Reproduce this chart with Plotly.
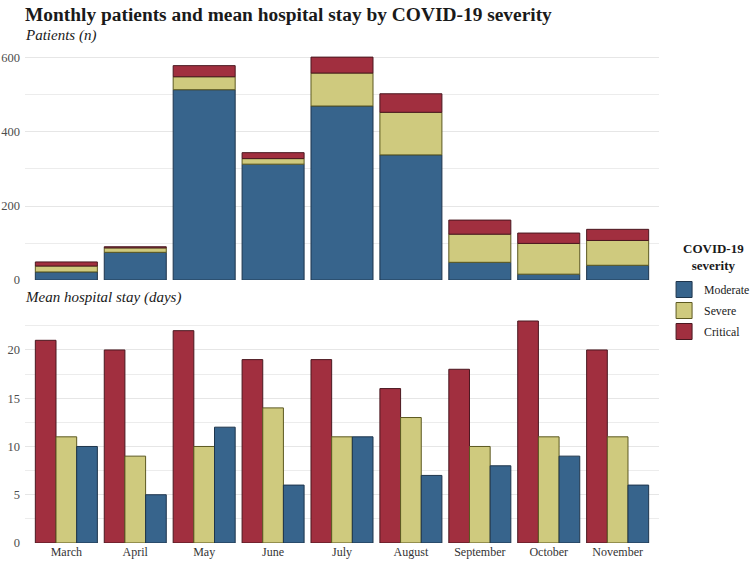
import numpy as np
import plotly.graph_objects as go
from plotly.subplots import make_subplots

months = ["March", "April", "May", "June", "July", "August",
          "September", "October", "November"]

# patients per month (n)
patients_moderate = [22, 75, 514, 313, 470, 338, 48, 16, 40]
patients_severe = [16, 12, 35, 15, 89, 115, 76, 83, 67]
patients_critical = [11, 3, 30, 16, 43, 50, 38, 28, 30]

# mean hospital stay (days)
stay_critical = [21, 20, 22, 19, 19, 16, 18, 23, 20]
stay_severe = [11, 9, 10, 14, 11, 13, 10, 11, 11]
stay_moderate = [10, 5, 12, 6, 11, 7, 8, 9, 6]

colors = {"Moderate": "#37648c", "Severe": "#cfca7e", "Critical": "#a12f3f"}
outlines = {"Moderate": "#1e354c", "Severe": "#5c5920", "Critical": "#4a1820"}

serif = "Liberation Serif"

fig = make_subplots(rows=2, cols=1, shared_xaxes=False)

# top panel: stacked counts, bases from cumulative sums
top_series = [("Moderate", patients_moderate), ("Severe", patients_severe),
              ("Critical", patients_critical)]
base = np.zeros(len(months))
for name, vals in top_series:
    fig.add_trace(go.Bar(x=months, y=vals, base=base.copy(), name=name,
                         offsetgroup="stack", showlegend=False,
                         marker=dict(color=colors[name],
                                     line=dict(color=outlines[name], width=1))),
                  row=1, col=1)
    base = base + np.array(vals)

# bottom panel: grouped mean stay
for name, vals in [("Critical", stay_critical), ("Severe", stay_severe),
                   ("Moderate", stay_moderate)]:
    fig.add_trace(go.Bar(x=months, y=vals, name=name, offsetgroup=name,
                         showlegend=False,
                         marker=dict(color=colors[name],
                                     line=dict(color=outlines[name], width=1))),
                  row=2, col=1)

# legend entries, one small legend each so the rows sit 21px apart like the original
legend_names = ["Moderate", "Severe", "Critical"]
legend_ids = ["legend", "legend2", "legend3"]
for name, lid in zip(legend_names, legend_ids):
    fig.add_trace(go.Scatter(x=[None], y=[None], mode="markers", name=name,
                             legend=lid,
                             marker=dict(symbol="square", size=21, color=colors[name],
                                         line=dict(color=outlines[name], width=1))),
                  row=2, col=1)

legend_style = dict(x=1.008, xanchor="left", yanchor="top", bgcolor="rgba(0,0,0,0)",
                    font=dict(size=11.8, color="#1a1a1a"))
fig.update_layout(
    legend=dict(legend_style, y=1 - (275 - 46) / 497),
    legend2=dict(legend_style, y=1 - (296 - 46) / 497),
    legend3=dict(legend_style, y=1 - (317 - 46) / 497),
)

fig.update_layout(
    width=750, height=561,
    barmode="group", bargap=0.1, bargroupgap=0,
    plot_bgcolor="white", paper_bgcolor="white",
    margin=dict(l=25, r=91, t=46, b=18, autoexpand=False),
    font=dict(family=serif, size=12, color="#333333"),
    title=dict(text="<b>Monthly patients and mean hospital stay by COVID-19 severity</b>",
               x=0, xref="paper", xanchor="left", y=1 - 14 / 561, yanchor="middle",
               font=dict(family=serif, size=19.4, color="#1a1a1a")),
    annotations=[
        dict(text="<i>Patients (n)</i>", xref="paper", yref="paper", x=0, y=1.022,
             xanchor="left", yanchor="middle", showarrow=False, xshift=-2,
             font=dict(family=serif, size=15, color="#1a1a1a")),
        dict(text="<i>Mean hospital stay (days)</i>", xref="paper", yref="paper",
             x=0, y=0.493, xanchor="left", yanchor="middle", showarrow=False, xshift=-2,
             font=dict(family=serif, size=15, color="#1a1a1a")),
        dict(text="<b>COVID-19<br>severity</b>", xref="paper", yref="paper",
             x=(713 - 25) / 634, y=(543 - 257) / 497, xanchor="center", yanchor="middle",
             showarrow=False, align="center",
             font=dict(family=serif, size=13, color="#1a1a1a")),
    ],
)

fig.update_xaxes(showgrid=False, zeroline=False, showline=False, ticks="",
                 automargin=False, categoryorder="array", categoryarray=months,
                 range=[-0.6, 8.6])
fig.update_xaxes(showticklabels=False, row=1, col=1)
fig.update_xaxes(tickfont=dict(size=12, color="#333333"), row=2, col=1)

fig.update_yaxes(showline=False, zeroline=False, ticks="", gridcolor="#e6e6e6",
                 gridwidth=1, automargin=False, ticklabelstandoff=4,
                 tickfont=dict(size=12.5, color="#4d4d4d"))
fig.update_yaxes(domain=[0.529, 1], range=[0, 632], dtick=200,
                 minor=dict(dtick=100, showgrid=True, gridcolor="#ececec"),
                 row=1, col=1)
fig.update_yaxes(domain=[0, 0.469], range=[0, 24.15], dtick=5,
                 minor=dict(dtick=2.5, showgrid=True, gridcolor="#ececec"),
                 row=2, col=1)

# drop the default 8px body margin so the figure sits at the window's corner
fig.write_html("out.html", config={"displayModeBar": False},
               post_script="document.body.style.margin='0px';")
